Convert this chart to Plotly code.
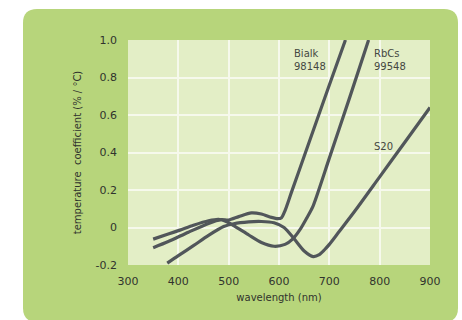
import plotly.graph_objects as go

# Temperature coefficient of photocathode sensitivity vs wavelength
bialk_nm = [350, 380, 420, 460, 485, 500, 520, 545, 565, 585, 598, 605, 612, 625, 650, 700, 732]
bialk_tc = [-0.108, -0.075, -0.025, 0.022, 0.042, 0.04, 0.058, 0.078, 0.072, 0.054, 0.047, 0.052, 0.09, 0.19, 0.38, 0.76, 1.0]

rbcs_nm = [350, 380, 403, 430, 460, 480, 495, 510, 540, 565, 590, 612, 627, 642, 655, 667, 700, 740, 778]
rbcs_tc = [-0.062, -0.035, -0.014, 0.012, 0.036, 0.044, 0.032, 0.01, -0.04, -0.08, -0.1, -0.09, -0.062, -0.01, 0.05, 0.11, 0.37, 0.69, 1.0]

s20_nm = [378, 400, 430, 460, 490, 510, 540, 565, 590, 610, 630, 650, 668, 680, 690, 700, 720, 750, 800, 850, 900]
s20_tc = [-0.19, -0.15, -0.097, -0.042, 0.005, 0.02, 0.03, 0.032, 0.025, 0.0, -0.06, -0.125, -0.155, -0.145, -0.12, -0.09, -0.02, 0.085, 0.27, 0.455, 0.64]

x_ticks = [300, 400, 500, 600, 700, 800, 900]
y_ticks = [-0.2, 0, 0.2, 0.4, 0.6, 0.8, 1.0]
y_tick_text = ["-0.2", "0", "0.2", "0.4", "0.6", "0.8", "1.0"]

curve_labels = ["Bialk<br>98148", "RbCs<br>99548", "S20"]
label_nm = [625, 784, 784]
label_tc = [0.895, 0.895, 0.43]

W, H = 462, 320
ML, MR, MT, MB = 128, 32, 40, 55
PW, PH = W - ML - MR, H - MT - MB

LINE = "#51565a"
TEXT = "#30332d"
FONT = "DejaVu Sans"

fig = go.Figure()
for xs, ys in [(bialk_nm, bialk_tc), (rbcs_nm, rbcs_tc), (s20_nm, s20_tc)]:
    fig.add_trace(go.Scatter(x=xs, y=ys, mode="lines",
                             line=dict(color=LINE, width=3.2, shape="spline", smoothing=0.7),
                             showlegend=False, hoverinfo="skip"))

for t, x, y in zip(curve_labels, label_nm, label_tc):
    fig.add_annotation(x=x, y=y, text=t, showarrow=False, xanchor="left", align="left",
                       font=dict(family=FONT, size=10, color="#454842"))


def px_to_paper(px, py):
    return (px - ML) / PW, (H - MB - py) / PH


def rounded_rect(x0, y0, x1, y1, r):
    # pixel rectangle with rounded corners, expressed in paper coordinates
    def P(px, py):
        a, b = px_to_paper(px, py)
        return f"{a:.5f},{b:.5f}"
    return (f"M {P(x0 + r, y0)} L {P(x1 - r, y0)} Q {P(x1, y0)} {P(x1, y0 + r)} "
            f"L {P(x1, y1 - r)} Q {P(x1, y1)} {P(x1 - r, y1)} L {P(x0 + r, y1)} "
            f"Q {P(x0, y1)} {P(x0, y1 - r)} L {P(x0, y0 + r)} Q {P(x0, y0)} {P(x0 + r, y0)} Z")


fig.add_shape(type="path", xref="paper", yref="paper", path=rounded_rect(23, 9, 458, 322, 14),
              fillcolor="#b7d57b", line=dict(width=0), layer="below")
fig.add_shape(type="rect", xref="paper", yref="paper", x0=0, x1=1, y0=0, y1=1,
              fillcolor="#e3eec6", line=dict(width=0), layer="below")

fig.update_layout(
    width=W, height=H,
    margin=dict(l=ML, r=MR, t=MT, b=MB),
    paper_bgcolor="white",
    plot_bgcolor="rgba(0,0,0,0)",
    font=dict(family=FONT, color=TEXT),
)
fig.update_xaxes(range=[300, 900], tickvals=x_ticks, showgrid=True, gridcolor="#f6f9ec", gridwidth=1.6,
                 zeroline=False, showline=False, ticklabelstandoff=8,
                 tickfont=dict(family=FONT, size=11, color=TEXT),
                 title=dict(text="wavelength (nm)", font=dict(family=FONT, size=10, color=TEXT), standoff=6))
fig.update_yaxes(range=[-0.2, 1.0], tickvals=y_ticks, ticktext=y_tick_text, showgrid=True,
                 gridcolor="#f6f9ec", gridwidth=1.6, zeroline=False, showline=False, ticklabelstandoff=10,
                 tickfont=dict(family=FONT, size=11, color=TEXT),
                 title=dict(text="temperature  coefficient (% / °C)", font=dict(family=FONT, size=10, color=TEXT),
                            standoff=12))

fig.write_html("out.html")
